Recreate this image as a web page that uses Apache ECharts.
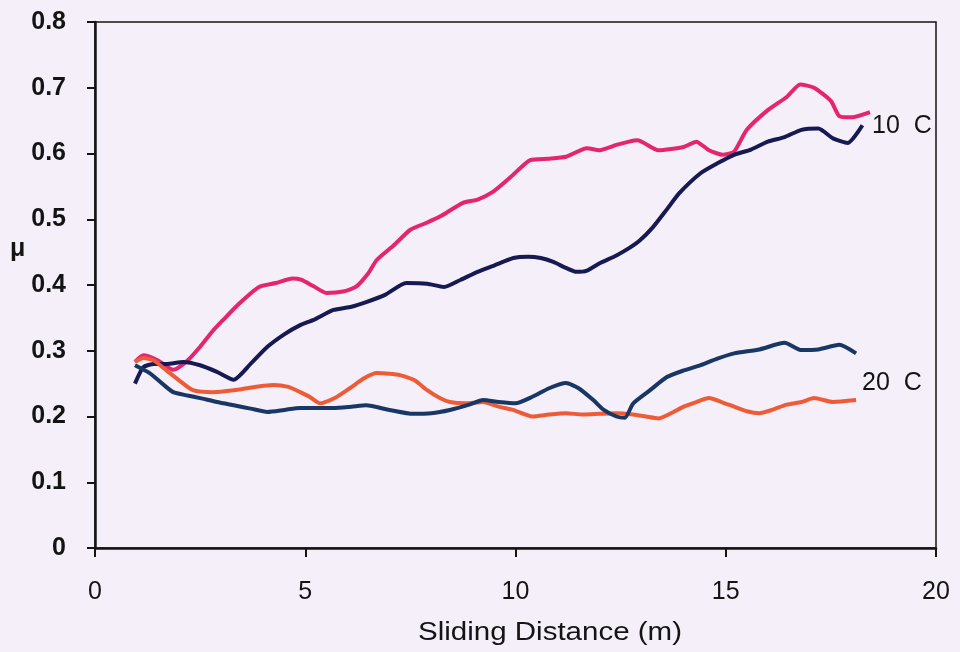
<!DOCTYPE html>
<html>
<head>
<meta charset="utf-8">
<script src="https://cdn.jsdelivr.net/npm/echarts@6/dist/echarts.min.js"></script>
<style>
  html, body { margin: 0; padding: 0; background: #f4eff8; }
  #chart { width: 960px; height: 652px; }
</style>
</head>
<body>
<div id="chart"></div>
<script>
// Friction coefficient vs sliding distance, two temperatures, two runs each
const xTicks = [0, 5, 10, 15, 20];
const yTicks = [0, 0.1, 0.2, 0.3, 0.4, 0.5, 0.6, 0.7, 0.8];

// 10 C, first run (magenta)
const d10Pink = [0.95,1.15,1.5,1.86,2.2,2.5,2.8,3.05,3.4,3.9,4.3,4.7,4.9,5.2,5.5,5.9,6.2,6.5,6.7,7.1,7.5,7.9,8.2,8.75,9.1,9.47,9.9,10.35,10.8,11.2,11.7,12.0,12.4,12.7,12.9,13.4,14.0,14.3,14.6,14.93,15.2,15.5,16.0,16.45,16.77,17.1,17.5,17.7,18.0,18.43];
const mu10Pink = [0.283,0.293,0.285,0.271,0.285,0.306,0.33,0.347,0.37,0.397,0.403,0.41,0.408,0.398,0.388,0.39,0.397,0.418,0.438,0.46,0.484,0.495,0.504,0.525,0.53,0.542,0.565,0.59,0.592,0.595,0.608,0.605,0.613,0.618,0.62,0.605,0.61,0.618,0.605,0.598,0.603,0.636,0.666,0.686,0.705,0.70,0.68,0.657,0.655,0.663];

// 10 C, second run (navy)
const d10Navy = [0.95,1.15,1.4,1.7,2.1,2.5,2.9,3.3,3.7,4.1,4.5,4.88,5.2,5.67,6.1,6.45,6.9,7.4,7.9,8.3,8.7,9.1,9.5,9.95,10.3,10.6,10.9,11.2,11.45,11.7,12.0,12.4,12.7,12.96,13.27,13.6,13.9,14.4,14.8,15.2,15.6,16.0,16.4,16.8,17.2,17.55,17.9,18.25];
const mu10Navy = [0.25,0.275,0.28,0.28,0.283,0.278,0.268,0.256,0.28,0.306,0.325,0.339,0.347,0.362,0.367,0.374,0.385,0.403,0.402,0.397,0.408,0.42,0.43,0.441,0.443,0.441,0.435,0.426,0.42,0.422,0.433,0.445,0.456,0.468,0.488,0.515,0.54,0.57,0.585,0.598,0.606,0.618,0.625,0.636,0.638,0.623,0.616,0.643];

// 20 C, first run (blue)
const d20Blue = [0.95,1.3,1.6,1.86,2.2,2.5,2.9,3.3,3.7,4.1,4.5,4.88,5.3,5.67,6.1,6.45,7.0,7.57,8.0,8.44,8.9,9.23,9.6,10.0,10.4,10.8,11.2,11.5,11.85,12.1,12.4,12.6,12.8,13.2,13.6,14.0,14.4,14.8,15.2,15.8,16.4,16.8,17.2,17.7,18.1];
const mu20Blue = [0.278,0.266,0.25,0.237,0.232,0.228,0.222,0.217,0.212,0.207,0.21,0.213,0.213,0.213,0.215,0.217,0.21,0.204,0.205,0.21,0.218,0.225,0.222,0.22,0.23,0.243,0.251,0.243,0.225,0.21,0.2,0.198,0.22,0.24,0.26,0.27,0.278,0.288,0.296,0.302,0.312,0.301,0.302,0.309,0.296];

// 20 C, second run (orange)
const d20Orange = [0.95,1.15,1.4,1.7,2.0,2.33,2.8,3.3,3.8,4.24,4.6,4.88,5.1,5.35,5.7,6.06,6.4,6.7,7.0,7.25,7.6,7.9,8.2,8.44,8.8,9.23,9.6,9.94,10.4,10.8,11.2,11.6,12.0,12.4,12.8,13.1,13.4,13.7,14.0,14.3,14.6,14.9,15.2,15.5,15.8,16.1,16.45,16.8,17.1,17.55,18.1];
const mu20Orange = [0.283,0.289,0.285,0.27,0.255,0.24,0.237,0.24,0.245,0.248,0.245,0.237,0.23,0.22,0.228,0.243,0.258,0.266,0.265,0.263,0.255,0.24,0.228,0.222,0.22,0.222,0.215,0.21,0.2,0.203,0.205,0.203,0.204,0.205,0.203,0.2,0.197,0.205,0.215,0.222,0.228,0.222,0.215,0.208,0.205,0.21,0.218,0.222,0.228,0.222,0.225];

const zip = (xs, ys) => xs.map((x, i) => [x, ys[i]]);

function curve(name, xs, ys, color) {
  return {
    name: name,
    type: 'line',
    data: zip(xs, ys),
    showSymbol: false,
    smooth: 0.2,
    lineStyle: { color: color, width: 4 },
    z: 3
  };
}

const FONT = '"Liberation Sans", Arial, sans-serif';
const INK = '#141414';
const chart = echarts.init(document.getElementById('chart'));
chart.setOption({
  backgroundColor: '#f4eff8',
  animation: false,
  grid: {
    left: 95, right: 24, top: 22, bottom: 104,
    show: true, borderColor: INK, borderWidth: 1.5, backgroundColor: 'transparent'
  },
  xAxis: {
    type: 'value', min: xTicks[0], max: xTicks[xTicks.length - 1], interval: 5,
    axisLine: { lineStyle: { color: INK, width: 2.5 } },
    axisTick: { show: true, inside: false, length: 9, lineStyle: { color: INK, width: 2 } },
    axisLabel: { color: INK, fontSize: 25, fontFamily: FONT, margin: 32 },
    splitLine: { show: false }
  },
  yAxis: {
    type: 'value', min: yTicks[0], max: yTicks[yTicks.length - 1], interval: 0.1,
    axisLine: { lineStyle: { color: INK, width: 2.5 } },
    axisTick: { show: true, inside: false, length: 8, lineStyle: { color: INK, width: 2 } },
    axisLabel: { color: INK, fontSize: 25, fontWeight: 'bold', fontFamily: FONT, margin: 29,
      formatter: v => (Math.round(v * 10) / 10).toString() },
    splitLine: { show: false }
  },
  series: [
    curve('10 C a', d10Pink, mu10Pink, '#e3266f'),
    curve('10 C b', d10Navy, mu10Navy, '#171a52'),
    curve('20 C a', d20Orange, mu20Orange, '#ee5b37'),
    curve('20 C b', d20Blue, mu20Blue, '#183764')
  ],
  graphic: [
    { type: 'text', x: 10, y: 249,
      style: { text: 'μ', font: 'bold 25px ' + FONT, fill: INK, textVerticalAlign: 'middle' } },
    { type: 'text', x: 550, y: 633, scaleX: 1.18,
      style: { text: 'Sliding Distance (m)', font: '25px ' + FONT, fill: INK,
        textAlign: 'center', textVerticalAlign: 'middle' } },
    { type: 'text', x: 872, y: 126,
      style: { text: '10  C', font: '25px ' + FONT, fill: INK, textVerticalAlign: 'middle' } },
    { type: 'text', x: 862, y: 383,
      style: { text: '20  C', font: '25px ' + FONT, fill: INK, textVerticalAlign: 'middle' } }
  ]
});
</script>
</body>
</html>
